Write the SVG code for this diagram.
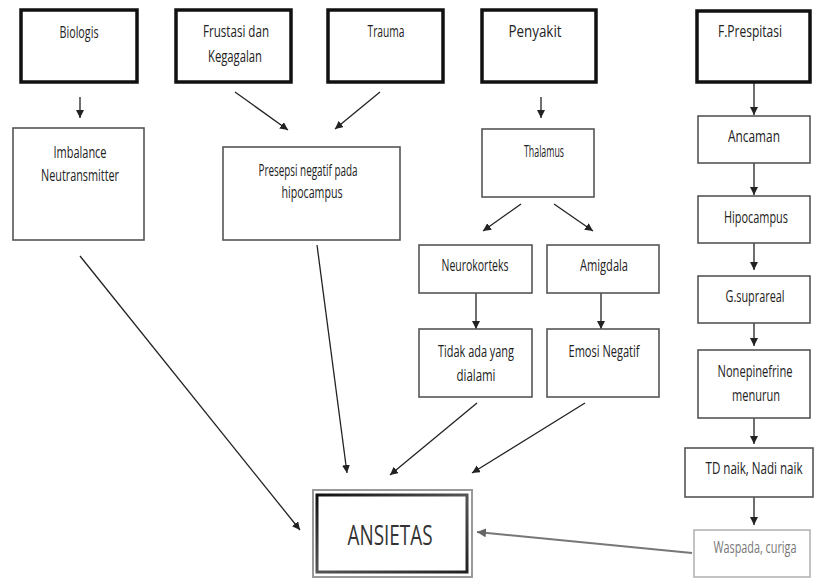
<svg xmlns="http://www.w3.org/2000/svg" width="814" height="578" viewBox="0 0 814 578">
<style>
text{font-family:"Open Sans","Liberation Sans",Arial,sans-serif;font-size:16px;fill:#222;text-anchor:middle}
.thick{fill:#fff;stroke:#111;stroke-width:3.5}
.thin{fill:#fff;stroke:#555;stroke-width:1.6}
.light{fill:#fff;stroke:#aaa;stroke-width:1.4}
.c{fill:none;stroke:#222;stroke-width:1.3}
.cg{fill:none;stroke:#777;stroke-width:2}
</style>
<defs>
<marker id="ah" viewBox="0 0 10 10" refX="10" refY="5" markerWidth="8" markerHeight="8" markerUnits="userSpaceOnUse" orient="auto"><path d="M0,0 L10,5 L0,10 z" fill="#222"/></marker>
<marker id="ahg" viewBox="0 0 10 10" refX="10" refY="5" markerWidth="9" markerHeight="9" markerUnits="userSpaceOnUse" orient="auto"><path d="M0,0 L10,5 L0,10 z" fill="#666"/></marker>
<linearGradient id="ag" x1="0" y1="0" x2="1" y2="1"><stop offset="0" stop-color="#111"/><stop offset="0.5" stop-color="#555"/><stop offset="1" stop-color="#222"/></linearGradient>
</defs>
<rect width="814" height="578" fill="#fff"/>

<g id="connectors">
<line class="c" x1="80" y1="97" x2="80" y2="118" marker-end="url(#ah)"/>
<line class="c" x1="235" y1="92" x2="288" y2="130" marker-end="url(#ah)"/>
<line class="c" x1="380" y1="92" x2="335" y2="129" marker-end="url(#ah)"/>
<line class="c" x1="541" y1="97" x2="541" y2="118" marker-end="url(#ah)"/>
<line class="c" x1="521" y1="204" x2="483" y2="231" marker-end="url(#ah)"/>
<line class="c" x1="554" y1="204" x2="593" y2="231" marker-end="url(#ah)"/>
<line class="c" x1="476" y1="293" x2="476" y2="329" marker-end="url(#ah)"/>
<line class="c" x1="601" y1="293" x2="601" y2="329" marker-end="url(#ah)"/>
<line class="c" x1="754" y1="82" x2="754" y2="115" marker-end="url(#ah)"/>
<line class="c" x1="754" y1="163" x2="754" y2="195" marker-end="url(#ah)"/>
<line class="c" x1="754" y1="243" x2="754" y2="270" marker-end="url(#ah)"/>
<line class="c" x1="754" y1="323" x2="754" y2="346" marker-end="url(#ah)"/>
<line class="c" x1="754" y1="418" x2="754" y2="444" marker-end="url(#ah)"/>
<line class="c" x1="754" y1="497" x2="754" y2="525" marker-end="url(#ah)"/>
<line class="c" x1="80" y1="256" x2="300" y2="530" marker-end="url(#ah)"/>
<line class="c" x1="317" y1="245" x2="347" y2="473" marker-end="url(#ah)"/>
<line class="c" x1="477" y1="403" x2="390" y2="475" marker-end="url(#ah)"/>
<line class="c" x1="585" y1="403" x2="472" y2="473" marker-end="url(#ah)"/>
<line class="cg" x1="692" y1="553" x2="477" y2="532" marker-end="url(#ahg)"/>
</g>

<g id="biologis"><rect class="thick" x="21" y="10" width="116" height="72"/><text transform="translate(79,38) scale(0.75,1)" textLength="52" lengthAdjust="spacingAndGlyphs">Biologis</text></g>
<g id="frustasi"><rect class="thick" x="176" y="10" width="115" height="72"/><text transform="translate(236,37) scale(0.75,1)" textLength="88" lengthAdjust="spacingAndGlyphs">Frustasi dan</text><text transform="translate(235,62) scale(0.75,1)" textLength="72" lengthAdjust="spacingAndGlyphs">Kegagalan</text></g>
<g id="trauma"><rect class="thick" x="328" y="10" width="115" height="72"/><text transform="translate(386,37) scale(0.75,1)" textLength="49.3" lengthAdjust="spacingAndGlyphs">Trauma</text></g>
<g id="penyakit"><rect class="thick" x="482" y="10" width="114" height="72"/><text transform="translate(535,37) scale(0.75,1)" textLength="70.7" lengthAdjust="spacingAndGlyphs">Penyakit</text></g>
<g id="fprespitasi"><rect class="thick" x="697" y="11" width="113" height="71"/><text transform="translate(750,37) scale(0.75,1)" textLength="85.3" lengthAdjust="spacingAndGlyphs">F.Prespitasi</text></g>

<g id="imbalance"><rect class="thin" x="13" y="128" width="131" height="112"/><text transform="translate(80,158) scale(0.75,1)" textLength="70.7" lengthAdjust="spacingAndGlyphs">Imbalance</text><text transform="translate(80,181) scale(0.75,1)" textLength="104" lengthAdjust="spacingAndGlyphs">Neutransmitter</text></g>
<g id="presepsi"><rect class="thin" x="223" y="147" width="177" height="93"/><text transform="translate(308,176) scale(0.75,1)" textLength="132" lengthAdjust="spacingAndGlyphs">Presepsi negatif pada</text><text transform="translate(312,198) scale(0.75,1)" textLength="81.3" lengthAdjust="spacingAndGlyphs">hipocampus</text></g>
<g id="thalamus"><rect class="thin" x="482" y="129" width="112" height="68"/><text transform="translate(544,157) scale(0.75,1)" textLength="53.3" lengthAdjust="spacingAndGlyphs">Thalamus</text></g>
<g id="neurokorteks"><rect class="thin" x="419" y="245" width="113" height="48"/><text transform="translate(475,271) scale(0.75,1)" textLength="89.3" lengthAdjust="spacingAndGlyphs">Neurokorteks</text></g>
<g id="amigdala"><rect class="thin" x="547" y="245" width="112" height="48"/><text transform="translate(604,271) scale(0.75,1)" textLength="64" lengthAdjust="spacingAndGlyphs">Amigdala</text></g>
<g id="tidak"><rect class="thin" x="419" y="329" width="113" height="68"/><text transform="translate(476,357) scale(0.75,1)" textLength="101.3" lengthAdjust="spacingAndGlyphs">Tidak ada yang</text><text transform="translate(476,381) scale(0.75,1)" textLength="52" lengthAdjust="spacingAndGlyphs">dialami</text></g>
<g id="emosi"><rect class="thin" x="547" y="329" width="112" height="68"/><text transform="translate(604,357) scale(0.75,1)" textLength="94.7" lengthAdjust="spacingAndGlyphs">Emosi Negatif</text></g>

<g id="ancaman"><rect class="thin" x="698" y="116" width="112" height="47"/><text transform="translate(754,142) scale(0.75,1)" textLength="69.3" lengthAdjust="spacingAndGlyphs">Ancaman</text></g>
<g id="hipocampus"><rect class="thin" x="698" y="196" width="112" height="47"/><text transform="translate(756,223) scale(0.75,1)" textLength="85.3" lengthAdjust="spacingAndGlyphs">Hipocampus</text></g>
<g id="gsuprareal"><rect class="thin" x="698" y="276" width="112" height="47"/><text transform="translate(755,302) scale(0.75,1)" textLength="78.7" lengthAdjust="spacingAndGlyphs">G.suprareal</text></g>
<g id="nonepinefrine"><rect class="thin" x="698" y="350" width="112" height="68"/><text transform="translate(755,377) scale(0.75,1)" textLength="100" lengthAdjust="spacingAndGlyphs">Nonepinefrine</text><text transform="translate(756,401) scale(0.75,1)" textLength="64" lengthAdjust="spacingAndGlyphs">menurun</text></g>
<g id="tdnaik"><rect class="thin" x="685" y="448" width="128" height="49"/><text transform="translate(754,474) scale(0.75,1)" textLength="129.3" lengthAdjust="spacingAndGlyphs">TD  naik, Nadi naik</text></g>
<g id="waspada"><rect class="light" x="694" y="530" width="116" height="47"/><text transform="translate(755,553) scale(0.75,1)" textLength="110.7" lengthAdjust="spacingAndGlyphs" style="fill:#777">Waspada, curiga</text></g>

<g id="ansietas">
<rect x="313" y="490" width="159" height="87" fill="#fff" stroke="#999" stroke-width="2"/>
<rect x="317" y="495" width="150" height="77" fill="#fff" stroke="url(#ag)" stroke-width="3"/>
<text transform="translate(390,545) scale(0.75,1)" textLength="113.3" lengthAdjust="spacingAndGlyphs" style="font-size:28px;fill:#333">ANSIETAS</text>
</g>
</svg>
